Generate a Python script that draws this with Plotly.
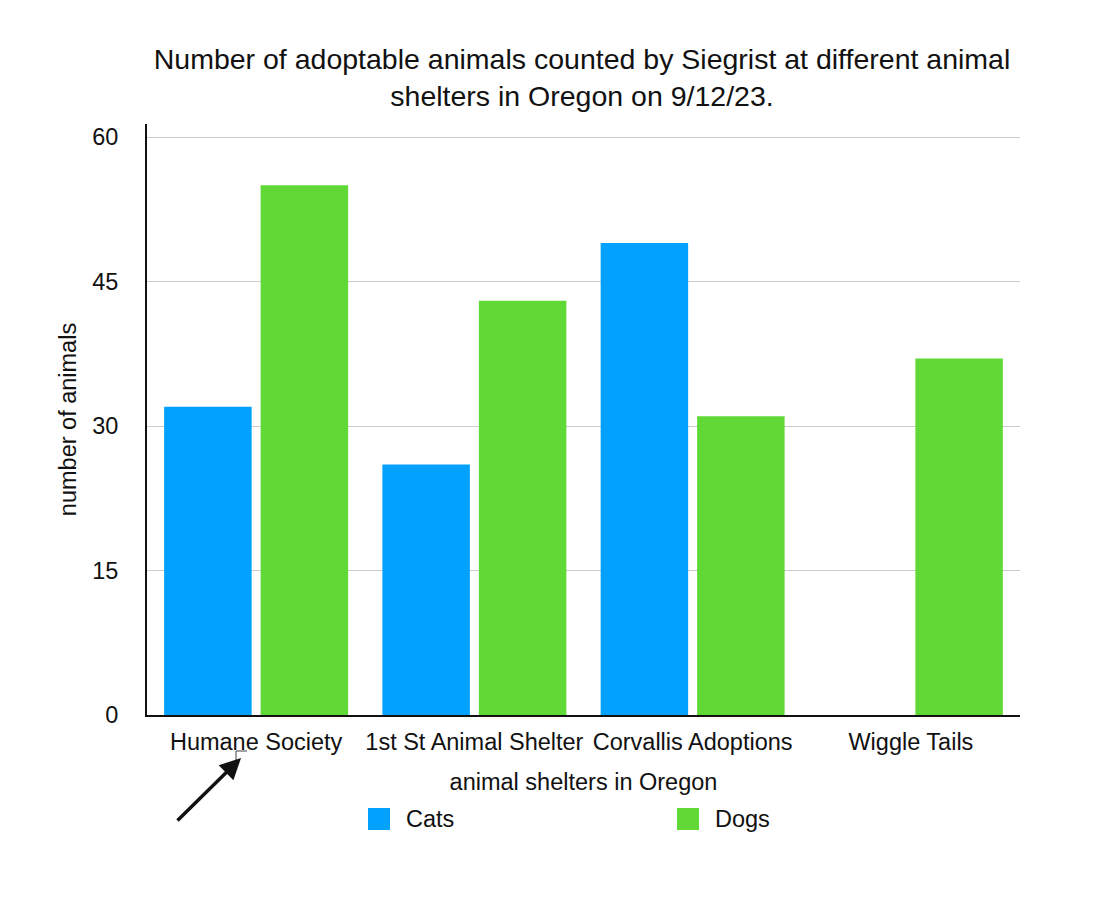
import plotly.graph_objects as go

categories = ["Humane Society", "1st St Animal Shelter", "Corvallis Adoptions", "Wiggle Tails"]
cats = [32, 26, 49, 0]
dogs = [55, 43, 31, 37]
y_ticks = [0, 15, 30, 45, 60]
series_names = ["Cats", "Dogs"]
series_colors = ["#03A1FE", "#60D937"]

FONT = "Liberation Sans, Arial, Helvetica, sans-serif"
FS = 23.5

# plot-area pixel frame (screen coords) used for paper-coordinate conversion
PL, PR, PT, PB = 147, 1020, 124, 715
def px(x):
    return (x - PL) / (PR - PL)
def py(y):
    return (PB - y) / (PB - PT)

fig = go.Figure()
fig.add_trace(go.Bar(name=series_names[0], x=categories, y=cats,
                     marker=dict(color=series_colors[0], line=dict(width=0))))
fig.add_trace(go.Bar(name=series_names[1], x=categories, y=dogs,
                     marker=dict(color=series_colors[1], line=dict(width=0))))

fig.update_layout(
    width=1106, height=903,
    paper_bgcolor="white", plot_bgcolor="white",
    font=dict(family=FONT, color="#111111", size=FS),
    margin=dict(l=139, r=94, t=116, b=196),
    barmode="group", bargap=0.116, bargroupgap=0.093,
    title=dict(
        text="Number of adoptable animals counted by Siegrist at different animal<br>shelters in Oregon on 9/12/23.",
        x=0.519, xanchor="center", y=0.933, yanchor="top",
        font=dict(size=28.5, family=FONT, color="#111111"),
    ),
    showlegend=False,
)

fig.update_xaxes(
    showline=True, linecolor="#111111", linewidth=2,
    showgrid=False, ticks="outside", ticklen=5, tickcolor="rgba(0,0,0,0)",
    tickfont=dict(size=FS),
    title=dict(text="animal shelters in Oregon", font=dict(size=FS), standoff=19),
    fixedrange=True,
)
fig.update_yaxes(
    range=[0, 61.35], tickvals=y_ticks, ticktext=[str(v) for v in y_ticks],
    showline=True, linecolor="#111111", linewidth=2,
    showgrid=True, gridcolor="#CCCCCC", gridwidth=1,
    zeroline=False, ticks="outside", ticklen=22, tickcolor="rgba(0,0,0,0)",
    tickfont=dict(size=FS),
    title=dict(text="number of animals", font=dict(size=FS), standoff=9),
)

# legend drawn as squares + text to match the large swatches
legend_x = [368, 677]
for name, color, lx in zip(series_names, series_colors, legend_x):
    fig.add_shape(type="rect", xref="paper", yref="paper",
                  x0=px(lx), x1=px(lx + 22), y0=py(830), y1=py(808),
                  fillcolor=color, line=dict(width=0))
    fig.add_annotation(xref="paper", yref="paper", x=px(lx + 36), y=py(819),
                       xanchor="left", yanchor="middle", text=name, showarrow=False,
                       font=dict(size=FS, family=FONT, color="#111111"))

# arrow annotation pointing at "Humane Society" label
fig.add_annotation(
    xref="paper", yref="paper",
    x=px(241), y=py(758),
    ax=176 - 241, ay=822 - 758,
    axref="pixel", ayref="pixel",
    showarrow=True, arrowhead=2, arrowsize=1.2, arrowwidth=3.5, arrowcolor="#111111",
    text="",
)
fig.add_shape(type="path", xref="paper", yref="paper",
              path=f"M {px(236)} {py(760)} L {px(236)} {py(751)} L {px(247)} {py(751)}",
              line=dict(color="#444444", width=1))

fig.write_html("out.html")
